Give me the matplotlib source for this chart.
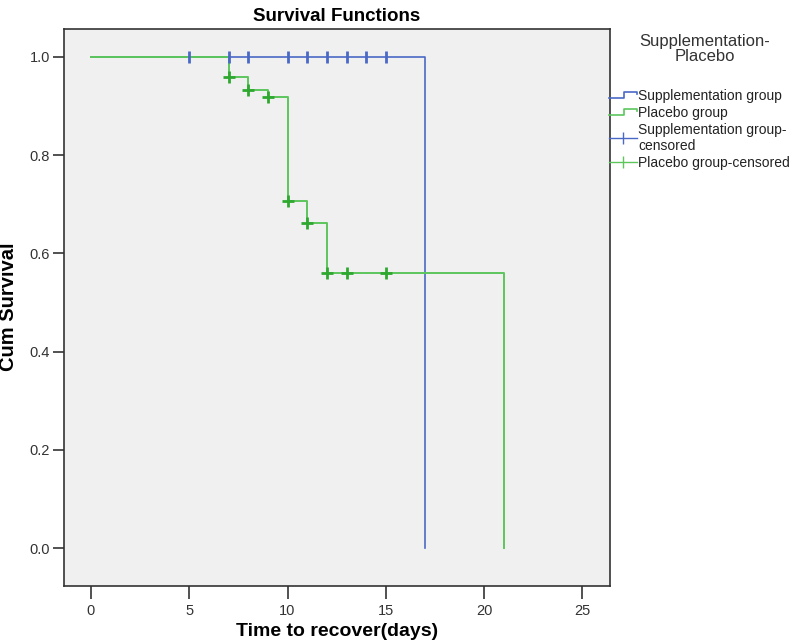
import matplotlib
matplotlib.use("Agg")
import matplotlib.pyplot as plt
from matplotlib.lines import Line2D
from matplotlib.legend_handler import HandlerBase

plt.rcParams['font.family'] = ['Liberation Sans', 'DejaVu Sans']

# Kaplan-Meier step data
supp_time = [0, 17, 17]
supp_surv = [1.0, 1.0, 0.0]
supp_cens_time = [5, 7, 8, 10, 11, 12, 13, 14, 15]
supp_cens_surv = [1.0, 1.0, 1.0, 1.0, 1.0, 1.0, 1.0, 1.0, 1.0]

plac_time = [0, 7, 8, 9, 10, 11, 12, 21, 21]
plac_surv = [1.0, 0.960, 0.933, 0.918, 0.706, 0.662, 0.560, 0.560, 0.0]
plac_cens_time = [7, 8, 9, 10, 11, 12, 13, 15]
plac_cens_surv = [0.960, 0.933, 0.918, 0.706, 0.662, 0.560, 0.560, 0.560]

x_ticks = [0, 5, 10, 15, 20, 25]
y_ticks = [0.0, 0.2, 0.4, 0.6, 0.8, 1.0]

blue = '#4a69c6'
green = '#5cc65c'
dark_green = '#2fa82f'


class StepHandler(HandlerBase):
    # legend handle drawn as a small step like the SPSS legend
    def create_artists(self, legend, orig_handle, xdescent, ydescent,
                       width, height, fontsize, trans):
        x0 = -xdescent
        y0 = -ydescent
        xs = [x0, x0 + width * 0.55, x0 + width * 0.55, x0 + width, x0 + width]
        ys = [y0 + height * 0.2, y0 + height * 0.2, y0 + height * 0.85,
              y0 + height * 0.85, y0 + height * 0.6]
        ln = Line2D(xs, ys, color=orig_handle.get_color(), lw=1.2, transform=trans)
        return [ln]


fig = plt.figure(figsize=(8, 6.42), dpi=100)
ax = fig.add_axes([0.08, 0.088, 0.6825, 0.867])
ax.set_facecolor('#f0f0f0')

ax.step(supp_time, supp_surv, where='post', color=blue, lw=1.2)
ax.step(plac_time, plac_surv, where='post', color=green, lw=1.4)
ax.plot(supp_cens_time, supp_cens_surv, ls='none', marker='|', color=blue,
        markersize=8, mew=2)
ax.plot(plac_cens_time, plac_cens_surv, ls='none', marker='+', color=dark_green,
        markersize=9, mew=2)

ax.set_xlim(-1.37, 26.4)
ax.set_ylim(-0.076, 1.057)
ax.set_xticks(x_ticks)
ax.set_yticks(y_ticks)
ax.set_yticklabels([f'{v:.1f}' for v in y_ticks])
ax.tick_params(axis='both', direction='out', width=1.2,
               colors='#333333', labelsize=10.5)
ax.tick_params(axis='x', length=9, pad=4)
ax.tick_params(axis='y', length=8, pad=2)

for s in ax.spines.values():
    s.set_color('#333333')
    s.set_linewidth(1.2)

ax.set_title('Survival Functions', fontsize=13.5, fontweight='bold', pad=6)
ax.set_xlabel('Time to recover(days)', fontsize=14, fontweight='bold', labelpad=4)
ax.set_ylabel('Cum Survival', fontsize=14.5, fontweight='bold', labelpad=8)

# legend title placed on its own, as in the reference
fig.text(705 / 800, 1 - 49 / 642, 'Supplementation-\nPlacebo', ha='center',
         va='center', fontsize=12, color='#333333', linespacing=1.05)

h1 = Line2D([], [], color=blue)
h2 = Line2D([], [], color=green)
h3 = Line2D([], [], color=blue, marker='|', markersize=9, lw=1.0)
h4 = Line2D([], [], color=green, marker='|', markersize=9, lw=1.0)
leg = fig.legend([h1, h2, h3, h4],
                 ['Supplementation group', 'Placebo group',
                  'Supplementation group-\ncensored', 'Placebo group-censored'],
                 handler_map={h1: StepHandler(), h2: StepHandler()},
                 loc='upper left', bbox_to_anchor=(609 / 800, 1 - 89 / 642),
                 frameon=False, fontsize=10, handlelength=2.0,
                 handletextpad=0.1, labelspacing=0.2, borderaxespad=0,
                 borderpad=0)
for t in leg.get_texts():
    t.set_color('#222222')

fig.savefig('out.png', dpi=100, facecolor='white')
